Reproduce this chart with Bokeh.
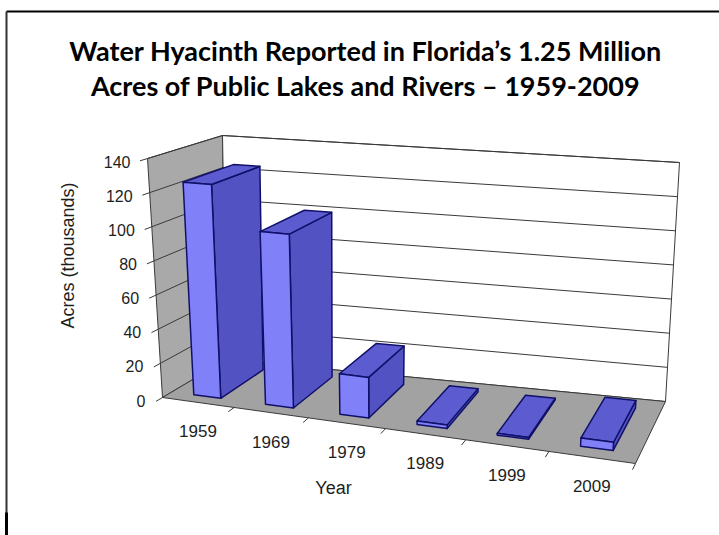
import numpy as np
from bokeh.plotting import figure
from bokeh.models import Range1d
from bokeh.core.properties import value
from bokeh.embed import file_html
from bokeh.resources import INLINE

# ---- data -------------------------------------------------------------
years = ["1959", "1969", "1979", "1989", "1999", "2009"]
acres = [125, 100, 23, 2, 1, 4.5]          # thousands of acres
y_ticks = [0, 20, 40, 60, 80, 100, 120, 140]
y_max = 140

title_lines = ["Water Hyacinth Reported in Florida\u2019s 1.25 Million",
               "Acres of Public Lakes and Rivers \u2013 1959-2009"]
y_title = "Acres (thousands)"
x_title = "Year"

# ---- page / projection setup -----------------------------------------
W, H = 719, 535

# page positions of the plot box corners: floor (value 0) and top plane
# (value y_max); f = front (depth 0), b = back (depth 1), l/r = first/last category edge
FLOOR = {"fl": (162, 397), "fr": (635, 463), "bl": (226, 359), "br": (665, 401)}
TOP = {"fl": (147, 158), "fr": (651, 197), "bl": (222, 135), "br": (679, 162)}
PERSP = 1.12          # foreshortening along the category axis
BAR_U = (0.31, 0.69)  # bar extent inside its category slot
BAR_W = (0.15, 0.85)  # bar extent along the depth axis


def _bilerp(c, s, w):
    fl, fr, bl, br = (np.array(c[k], float) for k in ("fl", "fr", "bl", "br"))
    return (1 - s) * (1 - w) * fl + s * (1 - w) * fr + (1 - s) * w * bl + s * w * br


def proj(u, v, w):
    """category position u (0..n), value v, depth w (0 front .. 1 back) -> page x, y"""
    s = u / len(years)
    s = s / ((1 - s) * PERSP + s)
    f = _bilerp(FLOOR, s, w)
    t = _bilerp(TOP, s, w)
    return f + (v / y_max) * (t - f)


def poly(pts):
    pts = [proj(*p) for p in pts]
    return [float(p[0]) for p in pts], [float(p[1]) for p in pts]


n = len(years)
p = figure(width=W, height=H, x_range=Range1d(0, W), y_range=Range1d(H, 0),
           output_backend="svg", toolbar_location=None, min_border=0,
           background_fill_color="white", border_fill_color="white",
           outline_line_color=None)
p.axis.visible = False
p.grid.visible = False

EDGE = "#3a3a3a"
TXT = "#1e1e1e"

# walls and floor
walls_x, walls_y = [], []
for quad in ([(0, 0, 0), (0, 0, 1), (0, y_max, 1), (0, y_max, 0)],      # side wall
             [(0, 0, 1), (n, 0, 1), (n, y_max, 1), (0, y_max, 1)],      # back wall
             [(0, 0, 0), (n, 0, 0), (n, 0, 1), (0, 0, 1)]):             # floor
    xs, ys = poly(quad)
    walls_x.append(xs)
    walls_y.append(ys)
p.patches(walls_x, walls_y, fill_color=["#a9a9a9", "#ffffff", "#a2a2a2"],
          line_color=EDGE, line_width=1)

# gridlines on side and back wall
gx, gy = [], []
for v in y_ticks[1:]:
    for seg in ([(0, v, 0), (0, v, 1)], [(0, v, 1), (n, v, 1)]):
        xs, ys = poly(seg)
        gx.append(xs)
        gy.append(ys)
# tick marks
for v in y_ticks:
    xs, ys = poly([(0, v, 0), (0, v, -0.1)])
    gx.append(xs)
    gy.append(ys)
for i in range(1, n + 1):
    xs, ys = poly([(i, 0, 0), (i, 0, -0.1)])
    gx.append(xs)
    gy.append(ys)
p.multi_line(gx, gy, line_color=EDGE, line_width=1)

# bars, left to right
FRONT, SIDE, TOPC = "#8080f8", "#5252c2", "#5c5cd0"
bx, by, bc = [], [], []
for i, val in enumerate(acres):
    u0, u1 = i + BAR_U[0], i + BAR_U[1]
    w0, w1 = BAR_W
    faces = [
        ([(u1, 0, w0), (u1, 0, w1), (u1, val, w1), (u1, val, w0)], SIDE),
        ([(u0, val, w0), (u1, val, w0), (u1, val, w1), (u0, val, w1)], TOPC),
        ([(u0, 0, w0), (u1, 0, w0), (u1, val, w0), (u0, val, w0)], FRONT),
    ]
    for quad, col in faces:
        xs, ys = poly(quad)
        bx.append(xs)
        by.append(ys)
        bc.append(col)
p.patches(bx, by, fill_color=bc, line_color="#10106a", line_width=1.5,
          line_join="round")

# value tick labels
lx, ly = [], []
for v in y_ticks:
    x, y = proj(0, v, 0)
    lx.append(float(x))
    ly.append(float(y))
p.text(lx, ly, text=[str(v) for v in y_ticks], x_offset=-17, y_offset=3,
       text_align="right", text_baseline="middle", text_color=TXT,
       text_font=value("Liberation Sans"), text_font_size="16px")

# category labels
cx, cy = [], []
for i in range(n):
    x, y = proj(i + 0.5, 0, 0)
    cx.append(float(x))
    cy.append(float(y))
p.text(cx, cy, text=years, y_offset=29, text_align="center",
       text_baseline="middle", text_color=TXT,
       text_font=value("Liberation Sans"), text_font_size="17px")

# axis titles
p.text([67], [255], text=[y_title], angle=np.pi / 2, text_align="center",
       text_baseline="middle", text_color=TXT,
       text_font=value("Liberation Sans"), text_font_size="18px")
p.text([333], [487], text=[x_title], text_align="center",
       text_baseline="middle", text_color=TXT,
       text_font=value("Liberation Sans"), text_font_size="18px")

# chart title
p.text([365, 365], [50, 85], text=title_lines, text_align="center",
       text_baseline="middle", text_color="#000000",
       text_font=value("Lato"), text_font_style="bold", text_font_size="27px")

# frame lines
p.segment(x0=[6, 6], y0=[11, 11], x1=[W, 6], y1=[11, H],
          line_color=["#000000", "#333333"], line_width=[2, 2])
p.segment(x0=[6], y0=[512], x1=[6], y1=[H], line_color="#000000", line_width=3)

open("out.html", "w").write(file_html(p, INLINE))
